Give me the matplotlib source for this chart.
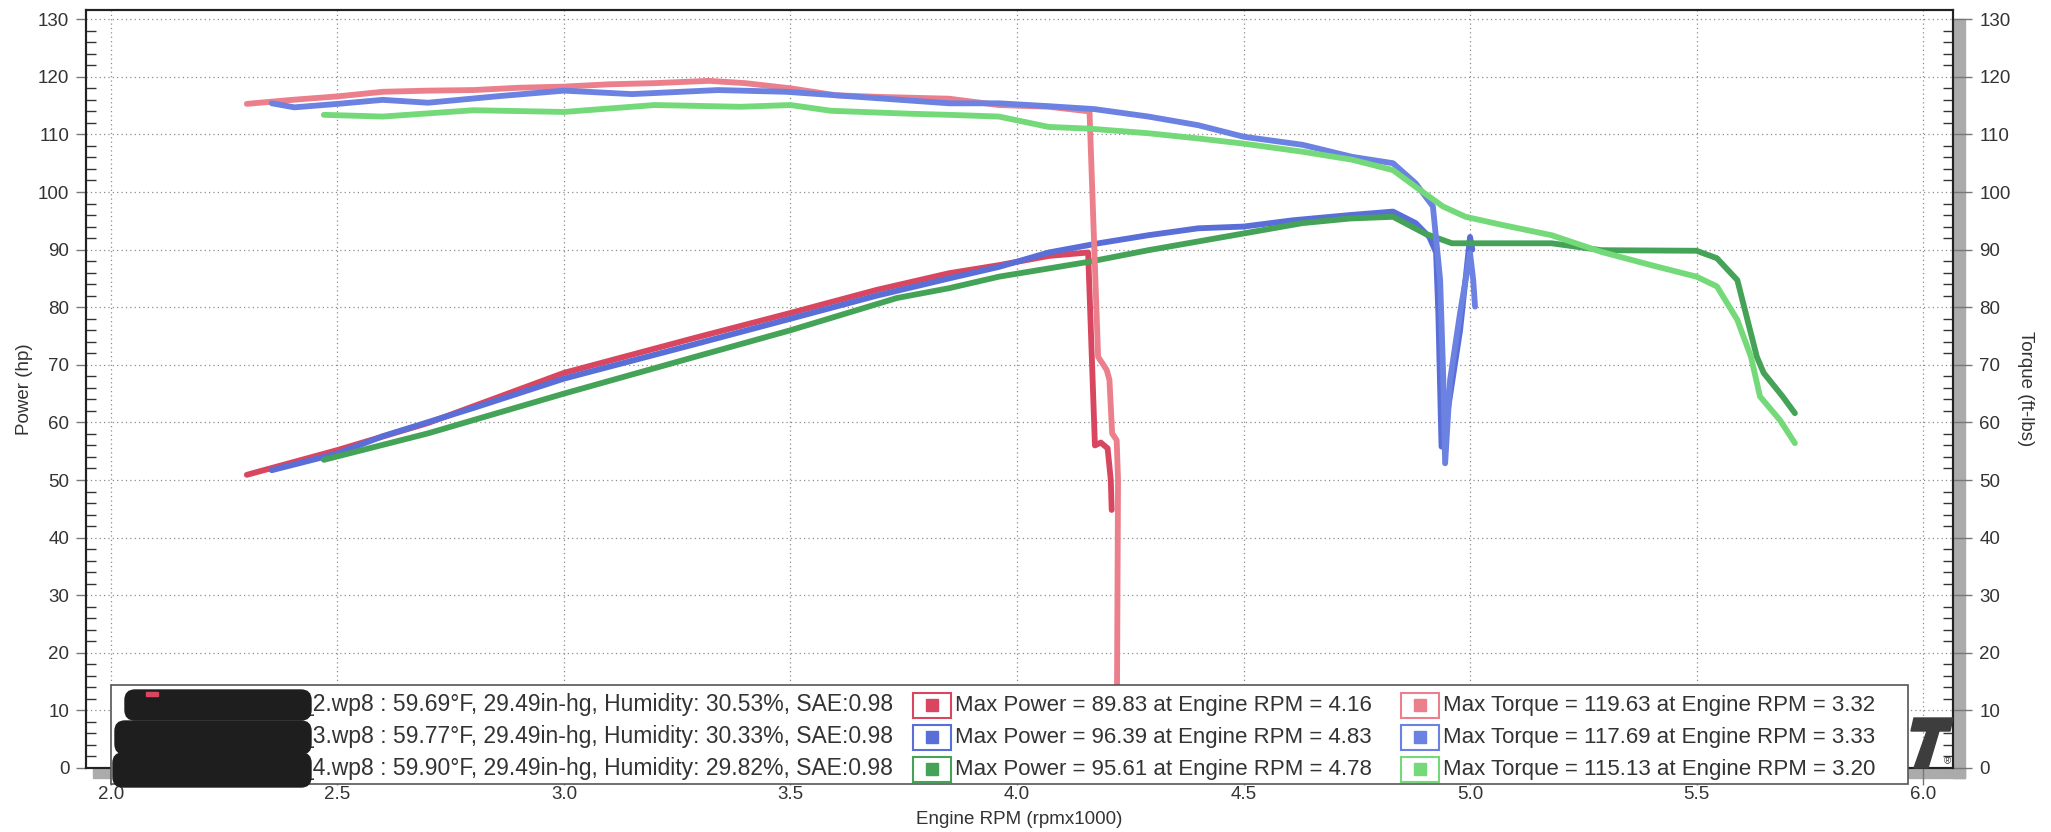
import numpy as np
import matplotlib.pyplot as plt
from matplotlib.patches import Rectangle, FancyBboxPatch, Polygon
from matplotlib.ticker import MultipleLocator

plt.rcParams['font.family'] = ['Liberation Sans', 'DejaVu Sans']

# run info (names are blacked out on the print-out)
run_files = ["_2.wp8", "_3.wp8", "_4.wp8"]
run_temp = [59.69, 59.77, 59.90]
run_baro = [29.49, 29.49, 29.49]
run_hum = [30.53, 30.33, 29.82]
run_sae = [0.98, 0.98, 0.98]
max_power = [89.83, 96.39, 95.61]
max_power_rpm = [4.16, 4.83, 4.78]
max_torque = [119.63, 117.69, 115.13]
max_torque_rpm = [3.32, 3.33, 3.20]

# run 2 (red)
r2_pwr_rpm = [2.30, 2.50, 2.70, 3.00, 3.29, 3.50, 3.69, 3.85, 3.96, 4.07, 4.157,
              4.172, 4.185, 4.200, 4.207, 4.209]
r2_pwr_hp = [50.9, 55.2, 59.9, 68.6, 74.7, 79.0, 83.0, 85.9, 87.3, 88.9, 89.5,
             56.0, 56.5, 55.5, 50.0, 44.8]
r2_trq_rpm = [2.30, 2.40, 2.50, 2.60, 2.70, 2.80, 2.90, 3.00, 3.10, 3.20, 3.32,
              3.40, 3.50, 3.60, 3.70, 3.85, 3.96, 4.07, 4.16, 4.179, 4.198,
              4.204, 4.210, 4.220, 4.223, 4.220]
r2_trq = [115.3, 116.0, 116.6, 117.4, 117.6, 117.7, 118.1, 118.3, 118.7, 118.9,
          119.3, 118.9, 118.0, 116.8, 116.5, 116.2, 115.1, 114.8, 114.0, 71.4,
          69.1, 67.4, 58.1, 56.9, 50.0, 2.0]

# run 3 (blue)
r3_pwr_rpm = [2.355, 2.50, 2.60, 2.80, 3.00, 3.29, 3.50, 3.69, 3.85, 3.96, 4.07,
              4.18, 4.29, 4.40, 4.50, 4.61, 4.735, 4.83, 4.88, 4.91, 4.925,
              4.93, 4.937, 4.95, 4.978, 5.00, 5.005]
r3_pwr_hp = [51.7, 54.6, 57.6, 62.5, 67.6, 73.6, 78.0, 82.0, 85.0, 87.0, 89.5,
             91.1, 92.5, 93.7, 94.0, 95.1, 96.0, 96.6, 94.6, 92.2, 89.5,
             79.0, 55.8, 61.6, 76.0, 92.2, 90.0]
r3_trq_rpm = [2.355, 2.405, 2.50, 2.60, 2.70, 2.85, 3.00, 3.15, 3.34, 3.49, 3.69,
              3.85, 3.96, 4.07, 4.17, 4.29, 4.40, 4.50, 4.63, 4.74, 4.83, 4.88,
              4.918, 4.934, 4.941, 4.945, 4.956, 4.978, 5.000, 5.007, 5.011]
r3_trq = [115.4, 114.7, 115.3, 116.0, 115.5, 116.6, 117.6, 117.0, 117.7, 117.4,
          116.3, 115.4, 115.4, 114.9, 114.4, 113.1, 111.6, 109.6, 108.2, 106.1,
          105.0, 101.5, 97.5, 84.7, 67.4, 52.9, 67.4, 79.0, 89.4, 84.7, 80.1]

# run 4 (green)
r4_pwr_rpm = [2.47, 2.70, 3.00, 3.29, 3.50, 3.735, 3.85, 3.96, 4.16, 4.29, 4.50,
              4.63, 4.735, 4.83, 4.90, 4.96, 5.07, 5.18, 5.29, 5.50, 5.545,
              5.59, 5.633, 5.648, 5.69, 5.717]
r4_pwr_hp = [53.5, 58.1, 65.0, 71.4, 76.0, 81.6, 83.3, 85.3, 87.9, 89.9, 92.8,
             94.6, 95.4, 95.7, 92.8, 91.1, 91.1, 91.1, 89.9, 89.8, 88.5,
             84.7, 71.4, 68.6, 64.5, 61.6]
r4_trq_rpm = [2.47, 2.60, 2.80, 3.00, 3.20, 3.39, 3.50, 3.59, 3.76, 3.85, 3.96,
              4.07, 4.16, 4.29, 4.40, 4.50, 4.63, 4.74, 4.83, 4.88, 4.94, 4.99,
              5.07, 5.18, 5.29, 5.40, 5.50, 5.545, 5.59, 5.62, 5.64, 5.684, 5.717]
r4_trq = [113.4, 113.1, 114.2, 113.9, 115.1, 114.8, 115.1, 114.1, 113.6, 113.4,
          113.1, 111.3, 111.0, 110.2, 109.3, 108.4, 107.0, 105.6, 103.8, 100.9,
          97.5, 95.7, 94.3, 92.5, 89.6, 87.3, 85.3, 83.6, 77.8, 71.4, 64.5,
          60.4, 56.4]

pwr_colors = ["#d8475f", "#5a6ed8", "#45a358"]
trq_colors = ["#ec7f8c", "#6b82e2", "#74d978"]

W, H = 2051, 832
fig = plt.figure(figsize=(W / 100, H / 100), dpi=100)


def fx(px):
    return px / W


def fy(py):
    return 1 - py / H


ax = fig.add_axes([fx(86), fy(768), fx(1953) - fx(86), fy(10) - fy(768)])
ax2 = ax.twinx()

runs = [(r2_pwr_rpm, r2_pwr_hp, r2_trq_rpm, r2_trq),
        (r3_pwr_rpm, r3_pwr_hp, r3_trq_rpm, r3_trq),
        (r4_pwr_rpm, r4_pwr_hp, r4_trq_rpm, r4_trq)]
for i, (prpm, php, trpm, tq) in enumerate(runs):
    ax.plot(prpm, php, color=pwr_colors[i], lw=4.2, solid_capstyle='round',
            solid_joinstyle='round')
    ax2.plot(trpm, tq, color=trq_colors[i], lw=4.2, solid_capstyle='round',
             solid_joinstyle='round')

for a in (ax, ax2):
    a.set_xlim(1.945, 6.066)
    a.set_ylim(0, 131.6)
    a.yaxis.set_major_locator(MultipleLocator(10))
    a.yaxis.set_minor_locator(MultipleLocator(2))
    for s in a.spines.values():
        s.set_color("#222222")
        s.set_linewidth(1.5)

ax.xaxis.set_major_locator(MultipleLocator(0.5))
ax.xaxis.set_major_formatter(lambda v, p: "%.1f" % v)
ax.grid(True, which='major', ls=(0, (1, 2.5)), color="#8c8c8c", lw=0.9)

ax.tick_params(axis='y', which='major', direction='out', length=7, width=1,
               color="#777777", labelsize=13.5, labelcolor="#333333", pad=5)
ax.tick_params(axis='y', which='minor', direction='in', length=7, width=1,
               color="#333333")
ax.tick_params(axis='x', which='major', direction='out', length=12, width=1,
               color="#777777", labelsize=13.5, labelcolor="#333333", pad=1)
ax2.tick_params(axis='y', which='major', direction='out', length=14, width=1,
                color="#777777", labelsize=13.5, labelcolor="#333333", pad=5)
ax2.tick_params(axis='y', which='minor', direction='in', length=7, width=1,
                color="#333333")

ax.set_ylabel("Power (hp)", fontsize=13.5, color="#333333", va='center')
ax.yaxis.set_label_coords(-0.0332, 0.5)
ax2.set_ylabel("Torque (ft-lbs)", fontsize=13.5, color="#333333", rotation=270,
               va='center')
ax2.yaxis.set_label_coords(1.0386, 0.5)
ax.set_xlabel("Engine RPM (rpmx1000)", fontsize=13.5, color="#333333", va='center')
ax.xaxis.set_label_coords(0.5, -0.0673)

# grey scroll bars right and bottom of the plot
fig.add_artist(Rectangle((fx(1953), fy(778)), fx(12), fy(19) - fy(778),
                         transform=fig.transFigure, color="#ababab", zorder=-1))
fig.add_artist(Rectangle((fx(93), fy(778)), fx(1872), fy(768) - fy(778),
                         transform=fig.transFigure, color="#ababab", zorder=-1))

# overlay in pixel coords for logo and legend box
ov = fig.add_axes([0, 0, 1, 1])
ov.set_xlim(0, W)
ov.set_ylim(H, 0)
ov.axis('off')
ov.set_zorder(10)
ov.patch.set_alpha(0)

# logo
ov.add_patch(Polygon([(1914, 718), (1953, 718), (1950, 731), (1911, 731)],
                     color="#3d3d3d"))
ov.add_patch(Polygon([(1927, 731), (1939, 731), (1928, 768), (1914, 768)],
                     color="#3d3d3d"))
ov.text(1947, 761, "®", fontsize=7, color="#333333", ha='center', va='center')

# legend box
ov.add_patch(Rectangle((111, 685), 1797, 99, facecolor="white",
                       edgecolor="#555555", lw=1.2, zorder=2))
row_y = [705, 737, 769]
blobs = [(128, 693, 180, 24), (118, 724, 190, 27), (116, 756, 192, 28)]
for i in range(3):
    y = row_y[i]
    info = "%s : %.2f°F, %.2fin-hg, Humidity: %.2f%%, SAE:%.2f" % (
        run_files[i], run_temp[i], run_baro[i], run_hum[i], run_sae[i])
    ov.text(300, y, info, fontsize=16.5, color="#333333", va='center', zorder=3)
    bx, by, bw, bh = blobs[i]
    ov.add_patch(FancyBboxPatch((bx, by), bw, bh, boxstyle="round,pad=3,rounding_size=10",
                                color="#1e1e1e", zorder=4))

    for x0, col, txt in [(913, pwr_colors[i], "Max Power = %.2f at Engine RPM = %.2f"
                          % (max_power[i], max_power_rpm[i])),
                         (1401, trq_colors[i], "Max Torque = %.2f at Engine RPM = %.2f"
                          % (max_torque[i], max_torque_rpm[i]))]:
        ov.add_patch(Rectangle((x0, y - 12.5), 38, 25, facecolor="white",
                               edgecolor=col, lw=1.5, zorder=3))
        ov.add_patch(Rectangle((x0 + 13, y - 6), 12, 12, color=col, zorder=3))
        ov.text(x0 + 42, y, txt, fontsize=16, color="#333333", va='center', zorder=3)

ov.add_patch(Rectangle((146, 692), 12, 4, color=pwr_colors[0], zorder=5))

fig.savefig("out.png", dpi=100)
